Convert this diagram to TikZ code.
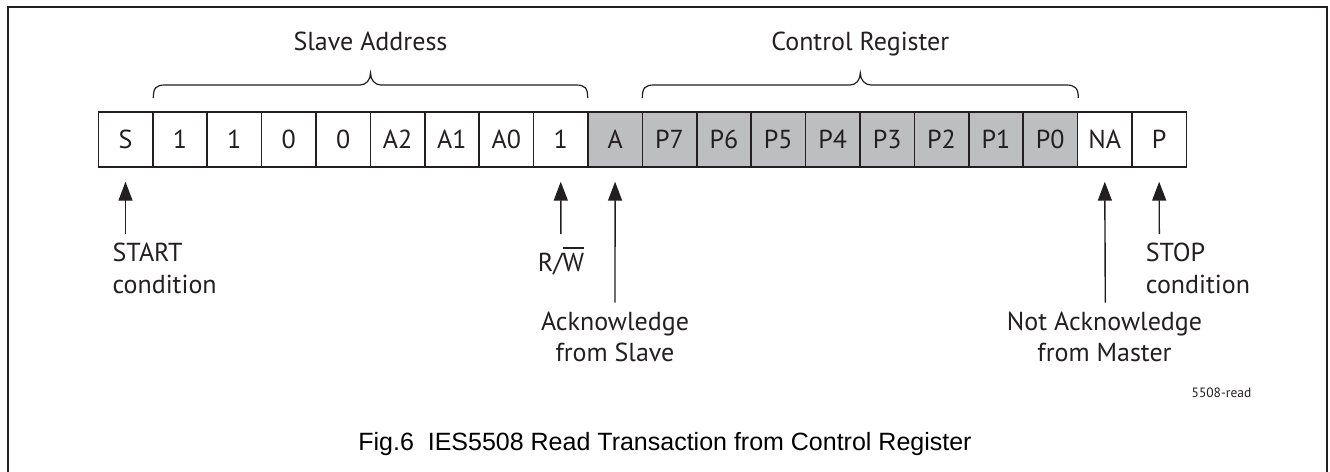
\documentclass[tikz,border=0pt]{standalone}
\usepackage{fontspec}
\setmainfont{PT Sans}
\newfontfamily\capfont{Liberation Sans}
\usetikzlibrary{arrows.meta,calc}
\definecolor{ink}{HTML}{231F20}
\definecolor{shade}{HTML}{BCBEC0}
\newcommand\barW{\setbox0\hbox{W}\rlap{\rule[23pt]{\wd0}{1.3pt}}\box0}
\begin{document}
\begin{tikzpicture}[x=1pt,y=-1pt,
  bitbox/.style={draw=ink, line width=1.6pt, minimum width=54.4pt, minimum height=55pt,
    inner sep=0pt, outer sep=0pt, text=ink, font=\fontsize{26}{30}\selectfont},
  lbl/.style={inner sep=0pt, text=ink, font=\fontsize{26}{31.7}\selectfont},
  brace/.style={draw=ink, line width=1.2pt},
  arr/.style={draw=ink, line width=1.4pt, -{Triangle[width=14pt,length=19pt]}},
  frame/.style={draw=ink, line width=2.4pt}]
\useasboundingbox (0,0) rectangle (1330,471);
\draw[frame] (8,7) rectangle (1327,480);
% bit boxes
\foreach \t/\f [count=\i] in {S/white,1/white,1/white,0/white,0/white,A2/white,A1/white,A0/white,1/white,
  A/shade,P7/shade,P6/shade,P5/shade,P4/shade,P3/shade,P2/shade,P1/shade,P0/shade,NA/white,P/white}{
  \pgfmathsetmacro\cx{125.5+(\i-1)*54.4}
  \node[bitbox, fill=\f] (b\i) at (\cx,139.5) {\t};
}
% braces
\draw[brace] (153.3,98) .. controls (153.3,88) and (156,85) .. (165,85) -- (360,85)
  .. controls (366,85) and (370.5,80) .. (370.5,73)
  .. controls (370.5,80) and (375,85) .. (381,85) -- (576,85)
  .. controls (585,85) and (587.7,88) .. (587.7,98);
\draw[brace] (642.3,98) .. controls (642.3,88) and (645,85) .. (654,85) -- (850,85)
  .. controls (856,85) and (860.3,80) .. (860.3,73)
  .. controls (860.3,80) and (865,85) .. (871,85) -- (1066,85)
  .. controls (1075,85) and (1078.3,88) .. (1078.3,98);
\node[lbl, anchor=base] (sa) at (370.5,50) {Slave Address};
\node[lbl, anchor=base] (cr) at (860.3,50) {Control Register};
% arrows
\coordinate (cs) at (125.5,234);
\coordinate (crw) at (560.9,234);
\coordinate (cack) at (615,302.7);
\coordinate (cna) at (1105.3,302.7);
\coordinate (cst) at (1159.3,234);
\draw[arr, shorten >=14.7pt] (cs) -- (b1.south);
\draw[arr, shorten >=14.7pt] (crw) -- (b9.south);
\draw[arr, shorten >=14.7pt] (cack) -- (b10.south);
\draw[arr, shorten >=14.7pt] (cna) -- (b19.south);
\draw[arr, shorten >=14.7pt] (cst) -- (b20.south);
% labels (base anchor = baseline of the last line)
\node[lbl, align=left, anchor=base west] (lstart) at (112.3,293.4) {START\\condition};
\node[lbl, anchor=base] (lrw) at (561,271.7) {R/\barW};
\node[lbl, align=center, anchor=base] (lack) at (615,361.7) {Acknowledge\\from Slave};
\node[lbl, align=center, anchor=base] (lna) at (1104.5,361.7) {Not Acknowledge\\from Master};
\node[lbl, align=left, anchor=base west] (lstop) at (1145.7,293.4) {STOP\\condition};
\node[inner sep=0pt, text=ink, font=\fontsize{13.5}{15}\selectfont, anchor=base] (tag) at (1221.5,397) {5508-read};
\node[inner sep=0pt, text=black, font=\capfont\fontsize{25}{30}\selectfont, anchor=base] (cap) at (665,450)
  {Fig.6\ \ IES5508 Read Transaction from Control Register};
\end{tikzpicture}
\end{document}
